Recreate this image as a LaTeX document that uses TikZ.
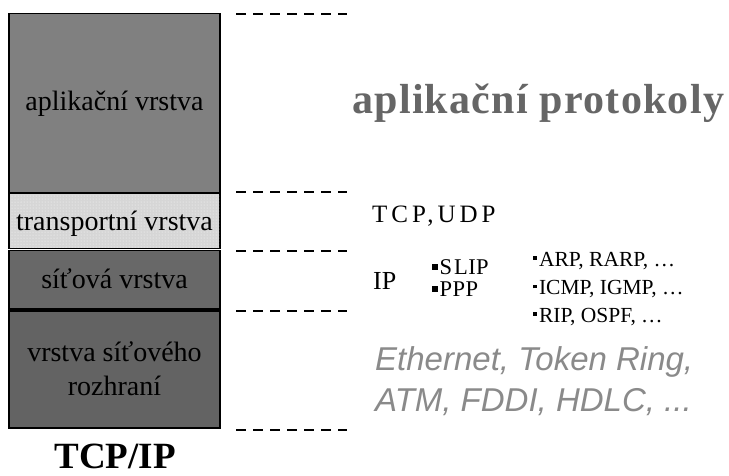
\documentclass[tikz,border=0pt]{standalone}
\usepackage{fontspec}
\setmainfont{Liberation Serif}
\setsansfont{Liberation Sans}
\newfontfamily\spacedserif[LetterSpace=16]{Liberation Serif}
\newfontfamily\headserif[LetterSpace=3]{Liberation Serif}
\usetikzlibrary{patterns}
\definecolor{appgray}{HTML}{808080}
\definecolor{transgray}{HTML}{D6D6D6}
\definecolor{netgray}{HTML}{686868}
\definecolor{linkgray}{HTML}{636363}
\definecolor{headgray}{HTML}{666666}
\definecolor{physgray}{HTML}{8A8A8A}
\newcommand{\sqbullet}{\rule[0.2em]{6pt}{6pt}\hspace{1.5pt}}
\newcommand{\dotbullet}{\rule[0.28em]{3.8pt}{3.8pt}\hspace{2pt}}
\begin{document}
\begin{tikzpicture}[x=1pt,y=-1pt,
  layer/.style={draw=black,line width=1.7pt},
  lbl/.style={inner sep=0pt,anchor=base,font=\fontsize{28}{32}\selectfont},
  guide/.style={line width=1.7pt,dash pattern=on 10pt off 7pt},
  txt/.style={inner sep=0pt,anchor=base west}]
\useasboundingbox (0,0) rectangle (729,475);
\fill[white] (0,0) rectangle (729,475);

% the four layers of the stack
\draw[layer,fill=appgray]   (9,13.5) rectangle (220,193);
\draw[layer,fill=transgray] (9,193) rectangle (220,248.5);
\fill[pattern=dots,pattern color=white!85!transgray] (10,194) rectangle (219,247.5);
\draw[layer,fill=netgray]   (9,250.5) rectangle (220,309);
\draw[layer,fill=linkgray]  (9,311) rectangle (220,428);

\node[lbl] (app) at (114.5,110) {aplikační vrstva};
\node[lbl] (transport) at (114.5,230) {transportní vrstva};
\node[lbl] (net) at (114.5,288) {síťová vrstva};
\node[lbl] (link1) at (114.5,361.5) {vrstva síťového};
\node[lbl] (link2) at (114.5,395) {rozhraní};
\node[inner sep=0pt,anchor=base,font=\bfseries\fontsize{37}{40}\selectfont] (stack) at (115,468) {TCP/IP};

% dashed guides at the layer boundaries
\foreach \yy/\nm in {14/g0,192/g1,251/g2,311/g3,430/g4}{
  \coordinate (\nm a) at (236,\yy);
  \coordinate (\nm b) at (347,\yy);
  \draw[guide] (\nm a) -- (\nm b);
}

% protocols of each layer
\node[txt,font=\headserif\bfseries\fontsize{42}{44}\selectfont,text=headgray] (proto) at (352,113) {aplikační protokoly};
\node[txt,font=\spacedserif\fontsize{25}{27}\selectfont] (tcp) at (372,222) {TCP,UDP};
\node[txt,font=\fontsize{26}{28}\selectfont] (ip) at (373,289.5) {IP};
\node[txt,font=\fontsize{22.5}{24}\selectfont] (slip) at (432,274.5) {\sqbullet S\kern2pt L\kern0.3pt I\kern0.3pt P};
\node[txt,font=\fontsize{22.5}{24}\selectfont] (ppp) at (432,296.5) {\sqbullet P\kern0.5pt P\kern0.5pt P};
\node[txt,font=\fontsize{21.5}{23}\selectfont] (arp) at (533,266) {\dotbullet ARP, RARP, \dots};
\node[txt,font=\fontsize{21.5}{23}\selectfont] (icmp) at (533,294.5) {\dotbullet ICMP, IGMP, \dots};
\node[txt,font=\fontsize{21.5}{23}\selectfont] (rip) at (533,322) {\dotbullet RIP, OSPF, \dots};
\node[txt,font=\sffamily\itshape\fontsize{33}{35}\selectfont,text=physgray] (eth) at (375,370) {Ethernet, Token Ring,};
\node[txt,font=\sffamily\itshape\fontsize{33}{35}\selectfont,text=physgray] (atm) at (375,411.5) {ATM, FDDI, HDLC, ...};
\end{tikzpicture}
\end{document}
